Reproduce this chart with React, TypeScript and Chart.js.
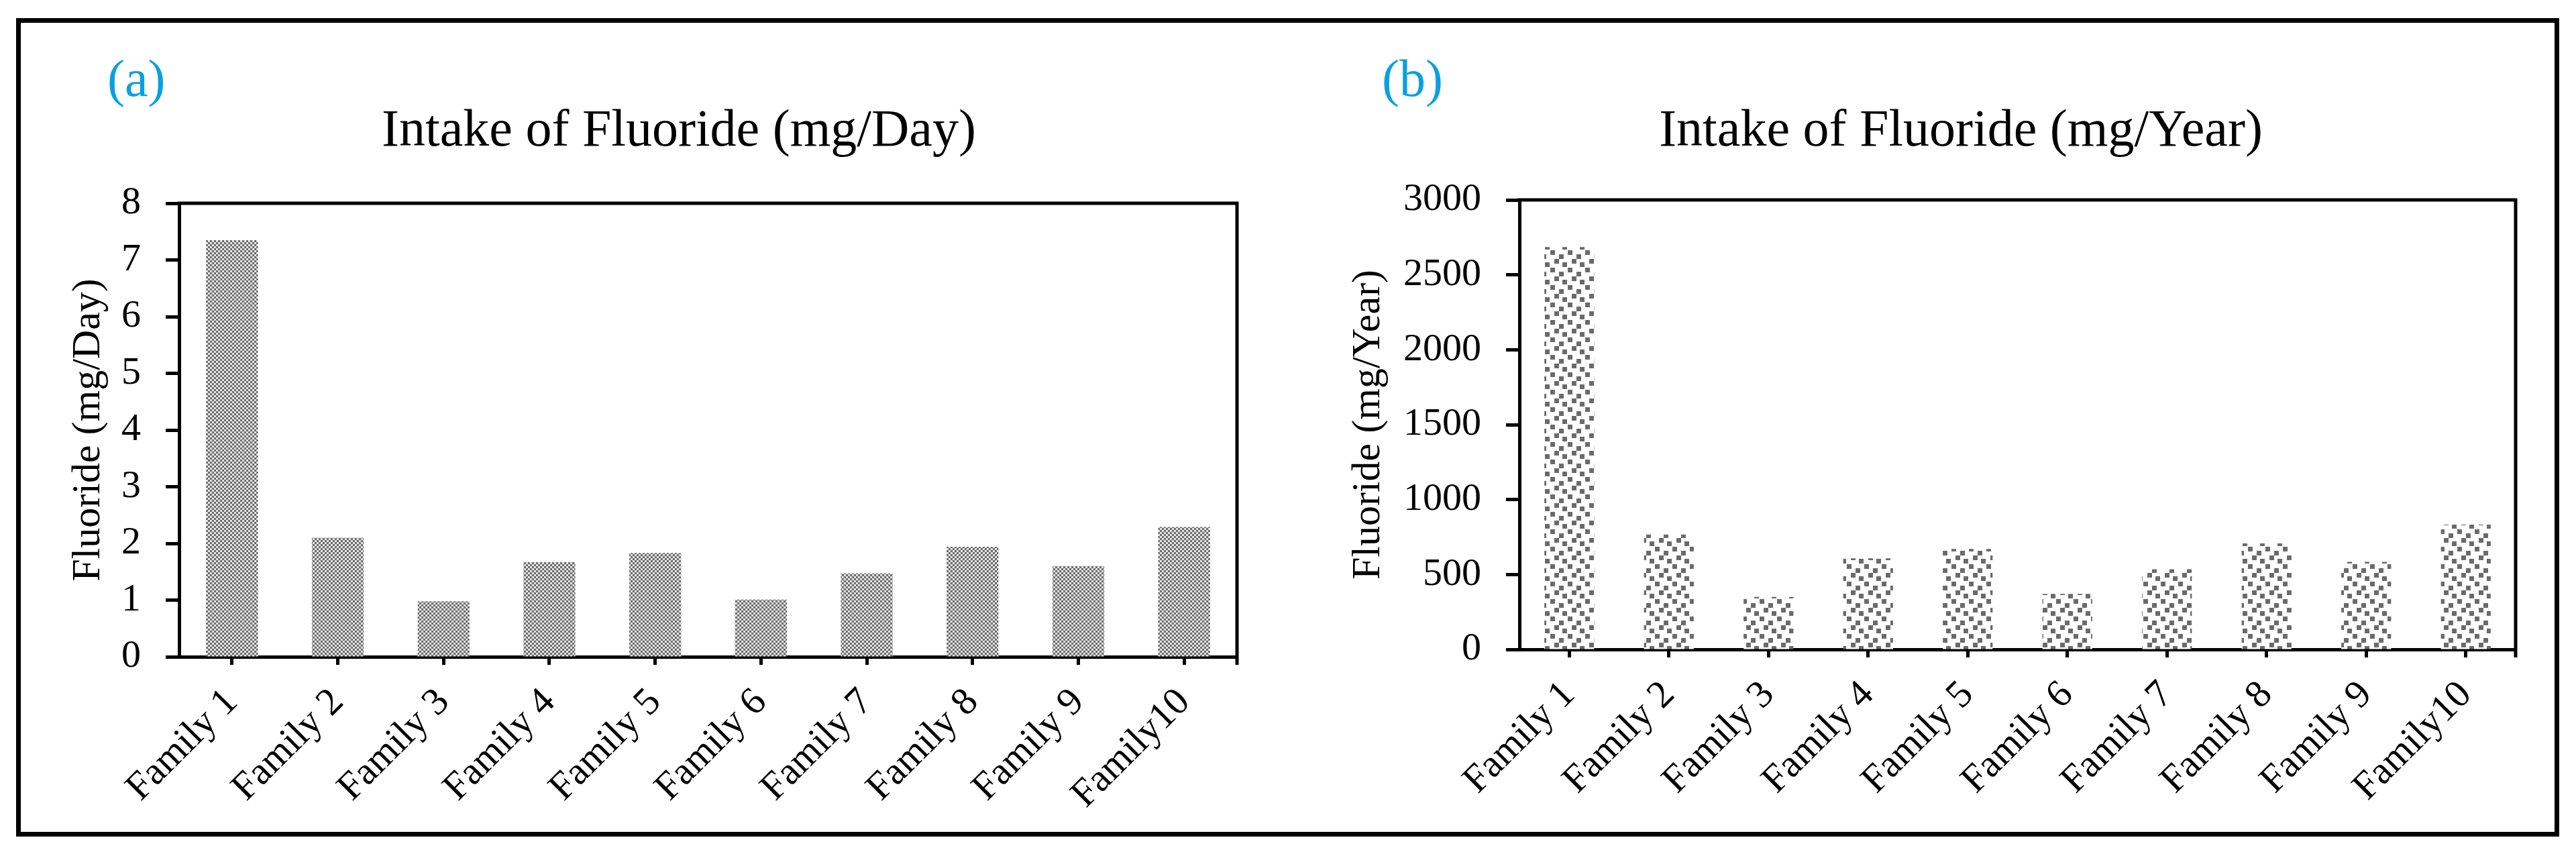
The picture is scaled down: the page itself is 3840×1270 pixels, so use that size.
import React, { useEffect, useRef } from "react";
import { Chart, registerables } from "chart.js";

Chart.register(...registerables);

// ---------- data ----------
const categories = [
  "Family 1",
  "Family 2",
  "Family 3",
  "Family 4",
  "Family 5",
  "Family 6",
  "Family 7",
  "Family 8",
  "Family 9",
  "Family10",
];
const dailyIntake = [7.35, 2.1, 0.98, 1.67, 1.83, 1.01, 1.47, 1.94, 1.6, 2.29];
const yearlyIntake = [2685, 767, 350, 608, 670, 370, 535, 707, 584, 833];

const dailyAxis = { min: 0, max: 8, step: 1 };
const yearlyAxis = { min: 0, max: 3000, step: 500 };

const panelLetters = ["(a)", "(b)"];
const panelTitles = ["Intake of Fluoride (mg/Day)", "Intake of Fluoride (mg/Year)"];
const axisTitles = ["Fluoride (mg/Day)", "Fluoride (mg/Year)"];

// ---------- styling ----------
const FONT = '"Liberation Serif", "Times New Roman", serif';
const BLACK = "#000000";
const LETTER_BLUE = "#0aa0e0";

function finePattern(): CanvasPattern | string {
  const c = document.createElement("canvas");
  c.width = 6;
  c.height = 6;
  const g = c.getContext("2d");
  if (!g) return "#a8a8a8";
  g.fillStyle = "#e4e4e4";
  g.fillRect(0, 0, 6, 6);
  g.fillStyle = "#6c6c6c";
  g.fillRect(0, 0, 3, 3);
  g.fillRect(3, 3, 3, 3);
  return g.createPattern(c, "repeat") || "#a8a8a8";
}

function coarsePattern(): CanvasPattern | string {
  const s = 26;
  const c = document.createElement("canvas");
  c.width = s;
  c.height = s;
  const g = c.getContext("2d");
  if (!g) return "#bbbbbb";
  g.fillStyle = "#ffffff";
  g.fillRect(0, 0, s, s);
  g.fillStyle = "#6a6a6a";
  const q = 7;
  g.fillRect(1, 1, q, q);
  g.fillRect(14, 7, q, q);
  g.fillRect(7, 14, q, q);
  g.fillRect(19, 19, q, q);
  return g.createPattern(c, "repeat") || "#bbbbbb";
}

const framePlugin = {
  id: "frameBox",
  afterDatasetsDraw(chart: any) {
    const { ctx, chartArea } = chart;
    const { left, right, top, bottom } = chartArea;
    ctx.save();
    ctx.strokeStyle = BLACK;
    ctx.lineWidth = 5;
    ctx.lineCap = "butt";
    ctx.lineJoin = "miter";
    ctx.beginPath();
    ctx.moveTo(left - 2.5, top);
    ctx.lineTo(right, top);
    ctx.lineTo(right, bottom + 12);
    ctx.stroke();
    ctx.restore();
  },
};

const panelTextPlugin = {
  id: "panelText",
  afterDraw(chart: any, _args: any, opts: any) {
    const { ctx } = chart;
    ctx.save();
    ctx.textBaseline = "alphabetic";
    ctx.font = `78px ${FONT}`;
    ctx.fillStyle = LETTER_BLUE;
    ctx.textAlign = "left";
    ctx.fillText(opts.letter, opts.letterX, opts.letterY);
    ctx.fillStyle = BLACK;
    ctx.textAlign = "center";
    ctx.fillText(opts.title, opts.titleX, opts.titleY);
    ctx.restore();
  },
};

type PanelProps = {
  left: number;
  top: number;
  width: number;
  height: number;
  values: number[];
  axis: { min: number; max: number; step: number };
  letter: string;
  title: string;
  yTitle: string;
  yTitlePad: number;
  areaLeft: number;
  areaTop: number;
  areaRightPad: number;
  xAxisHeight: number;
  barPct: number;
  patternKind: "fine" | "coarse";
  letterX: number;
  letterY: number;
  titleX: number;
  titleY: number;
};

function BarPanel(p: PanelProps) {
  const ref = useRef<HTMLCanvasElement>(null);
  useEffect(() => {
    if (!ref.current) return;
    const pattern = p.patternKind === "fine" ? finePattern() : coarsePattern();
    const tickFont = { family: FONT, size: 58 };
    const chart = new Chart(ref.current, {
      type: "bar",
      data: {
        labels: categories,
        datasets: [
          {
            data: p.values,
            backgroundColor: pattern as any,
            borderWidth: 0,
            barPercentage: p.barPct,
            categoryPercentage: 1,
          },
        ],
      },
      options: {
        animation: false,
        responsive: false,
        devicePixelRatio: 1,
        layout: {
          padding: { top: p.areaTop, right: p.areaRightPad, bottom: 0, left: 0 },
        },
        plugins: {
          legend: { display: false },
          tooltip: { enabled: false },
          title: { display: false },
          panelText: {
            letter: p.letter,
            title: p.title,
            letterX: p.letterX,
            letterY: p.letterY,
            titleX: p.titleX,
            titleY: p.titleY,
          },
        } as any,
        scales: {
          x: {
            type: "category",
            offset: true,
            z: 1,
            grid: {
              offset: false,
              drawOnChartArea: false,
              drawTicks: true,
              tickLength: 12,
              tickWidth: 5,
              tickColor: BLACK,
            },
            border: { display: true, width: 5, color: BLACK },
            ticks: {
              autoSkip: false,
              minRotation: 45,
              maxRotation: 45,
              padding: 22,
              color: BLACK,
              font: tickFont,
            },
            afterFit: (s: any) => {
              s.height = p.xAxisHeight;
            },
          },
          y: {
            min: p.axis.min,
            max: p.axis.max,
            z: 1,
            ticks: {
              stepSize: p.axis.step,
              padding: 37,
              color: BLACK,
              font: tickFont,
              callback: (v: any) => String(v),
            },
            grid: {
              drawOnChartArea: false,
              drawTicks: true,
              tickLength: 20,
              tickWidth: 5,
              tickColor: BLACK,
            },
            border: { display: true, width: 5, color: BLACK },
            title: {
              display: true,
              text: p.yTitle,
              color: BLACK,
              font: { family: FONT, size: 60 },
              padding: { top: p.yTitlePad, bottom: 0 },
            },
            afterFit: (s: any) => {
              s.width = p.areaLeft;
            },
          },
        },
      },
      plugins: [framePlugin, panelTextPlugin],
    } as any);
    return () => chart.destroy();
  }, []);
  return (
    <canvas
      ref={ref}
      width={p.width}
      height={p.height}
      style={{
        position: "absolute",
        left: p.left,
        top: p.top,
        width: p.width,
        height: p.height,
        display: "block",
      }}
    />
  );
}

export default function App() {
  return (
    <div
      style={{
        position: "absolute",
        left: 0,
        top: 0,
        width: 3840,
        height: 1270,
        background: "#ffffff",
        overflow: "hidden",
      }}
    >
      <div
        style={{
          position: "absolute",
          left: 24,
          top: 27,
          width: 3791,
          height: 1220,
          border: "7px solid #000",
          boxSizing: "border-box",
        }}
      />
      <BarPanel
        left={31}
        top={34}
        width={1889}
        height={1206}
        values={dailyIntake}
        axis={dailyAxis}
        letter={panelLetters[0]}
        title={panelTitles[0]}
        yTitle={axisTitles[0]}
        yTitlePad={65}
        areaLeft={236}
        areaTop={269}
        areaRightPad={76}
        xAxisHeight={261}
        barPct={0.49}
        patternKind="fine"
        letterX={129}
        letterY={109}
        titleX={981}
        titleY={183}
      />
      <BarPanel
        left={1920}
        top={34}
        width={1888}
        height={1206}
        values={yearlyIntake}
        axis={yearlyAxis}
        letter={panelLetters[1]}
        title={panelTitles[1]}
        yTitle={axisTitles[1]}
        yTitlePad={84}
        areaLeft={345}
        areaTop={264}
        areaRightPad={58}
        xAxisHeight={272}
        barPct={0.5}
        patternKind="coarse"
        letterX={140}
        letterY={109}
        titleX={1003}
        titleY={183}
      />
    </div>
  );
}
